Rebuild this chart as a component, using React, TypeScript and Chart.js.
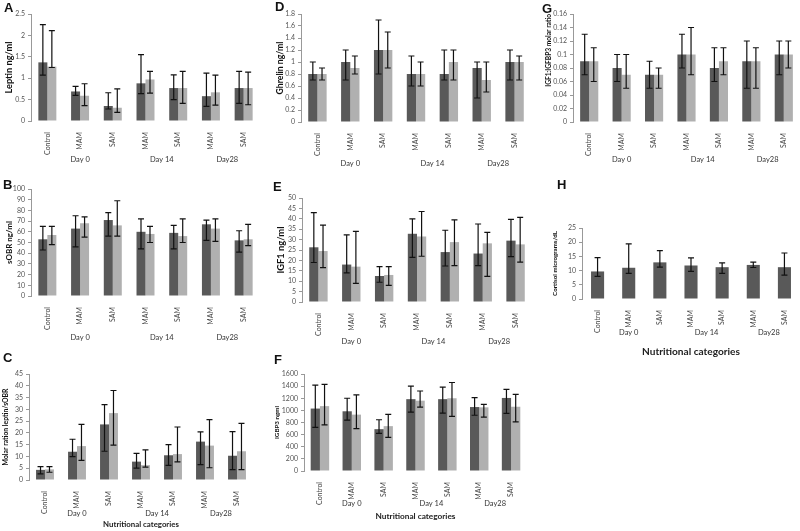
import React, { useEffect, useRef } from "react";
import { Chart, registerables } from "chart.js";

Chart.register(...registerables);

// ---------- shared categories ----------
const categories = ["Control", "MAM", "SAM", "MAM", "SAM", "MAM", "SAM"];
const dayGroups: [number, number, string][] = [
  [0, 2, "Day 0"],
  [3, 4, "Day 14"],
  [5, 6, "Day28"],
];

// ---------- A: Leptin ----------
const leptinDark = [1.37, 0.69, 0.35, 0.88, 0.77, 0.58, 0.77];
const leptinDarkErr = [[1.07, 2.25], [0.6, 0.81], [0.28, 0.66], [0.64, 1.55], [0.5, 1.08], [0.34, 1.12], [0.41, 1.16]];
const leptinLight = [1.27, 0.59, 0.31, 0.97, 0.77, 0.67, 0.77];
const leptinLightErr = [[1.25, 2.11], [0.36, 0.87], [0.2, 0.75], [0.65, 1.16], [0.41, 1.16], [0.37, 1.07], [0.38, 1.14]];

// ---------- B: sOBR ----------
const sobrDark = [53, 63, 71, 60, 59, 67, 52];
const sobrDarkErr = [[43, 65], [46, 75], [56, 78], [44, 72], [44, 66], [52, 71], [41, 61]];
const sobrLight = [57, 68, 66, 58, 56, 63, 53];
const sobrLightErr = [[48, 65], [55, 74], [56, 89], [50, 65], [50, 72], [51, 72], [47, 67]];

// ---------- C: Molar ratio leptin/sOBR ----------
const molarDark = [4.3, 12, 23.6, 7.8, 10.5, 16.3, 10.3];
const molarDarkErr = [[2.6, 5.7], [9.9, 17.3], [12.2, 32], [5, 11.3], [6.2, 15], [6.5, 20.4], [4.4, 20.5]];
const molarLight = [4.5, 14.4, 28.4, 6.3, 11, 14.6, 12.2];
const molarLightErr = [[3.3, 5.7], [8.3, 23.6], [14.8, 38], [5.5, 12.8], [7.7, 22.5], [5.2, 25.6], [4.4, 24]];

// ---------- D: Ghrelin ----------
const ghrelinDark = [0.8, 1.0, 1.2, 0.8, 0.8, 0.9, 1.0];
const ghrelinDarkErr = [[0.7, 1.0], [0.7, 1.2], [0.8, 1.7], [0.6, 1.1], [0.7, 1.2], [0.4, 1.0], [0.7, 1.2]];
const ghrelinLight = [0.8, 0.9, 1.2, 0.8, 1.0, 0.7, 1.0];
const ghrelinLightErr = [[0.7, 0.9], [0.8, 1.1], [0.9, 1.5], [0.6, 1.0], [0.7, 1.2], [0.5, 1.0], [0.7, 1.1]];

// ---------- E: IGF1 ----------
const igf1Dark = [26.3, 18, 12.5, 32.8, 24, 23.3, 29.5];
const igf1DarkErr = [[19, 43], [14, 32.3], [9.5, 17], [21.5, 40], [17.3, 34.5], [17.5, 37.5], [21.8, 39.7]];
const igf1Light = [24.5, 17, 13, 31.5, 28.8, 28.2, 27.7];
const igf1LightErr = [[16.5, 37], [9, 34], [8, 17], [22, 43.5], [17.5, 39.5], [12.3, 33.5], [19.2, 40.7]];

// ---------- F: IGFBP3 ----------
const igfbp3Dark = [1030, 985, 690, 1185, 1185, 1055, 1205];
const igfbp3DarkErr = [[720, 1415], [840, 1200], [620, 845], [970, 1400], [955, 1385], [920, 1210], [950, 1345]];
const igfbp3Light = [1070, 930, 740, 1160, 1200, 1050, 1060];
const igfbp3LightErr = [[760, 1430], [700, 1255], [555, 935], [1055, 1320], [900, 1460], [890, 1100], [810, 1265]];

// ---------- G: IGF1:IGFBP3 molar ratio ----------
const ratioDark = [0.09, 0.08, 0.07, 0.1, 0.08, 0.09, 0.1];
const ratioDarkErr = [[0.07, 0.13], [0.06, 0.1], [0.05, 0.09], [0.08, 0.13], [0.06, 0.11], [0.05, 0.12], [0.07, 0.12]];
const ratioLight = [0.09, 0.07, 0.07, 0.1, 0.09, 0.09, 0.1];
const ratioLightErr = [[0.06, 0.11], [0.05, 0.1], [0.05, 0.08], [0.07, 0.14], [0.07, 0.11], [0.05, 0.11], [0.08, 0.12]];

// ---------- H: Cortisol ----------
const cortisol = [9.7, 11, 12.9, 11.8, 11.2, 12, 11.2];
const cortisolErr = [[8, 14.6], [9, 19.4], [11.2, 17], [9.7, 14.5], [9, 12.7], [11.1, 13], [8.4, 16.2]];

// ---------- styling ----------
const W = 800;
const H = 531;
const DARK = "#595959";
const LIGHT = "#b0b0b0";
const FONT = "Lato";

type PanelCfg = {
  letter: string;
  letterPos: [number, number];
  area: [number, number, number, number]; // left, top, right, bottom (page px)
  yMax: number;
  yStep: number;
  yTitle: string;
  yTitleX: number;
  yTitleLen: number; // rendered length of the y title in px
  yTitleAlign?: string;
  series: { data: number[]; err: number[][]; color: string }[];
  dayDy: number;
  xTitle?: string;
  xTitleDy?: number;
  xTitleLen?: number;
  barPct: number;
  catPct: number;
};

const pair = (d: number[], de: number[][], l: number[], le: number[][]) => [
  { data: d, err: de, color: DARK },
  { data: l, err: le, color: LIGHT },
];

const panels: PanelCfg[] = [
  { letter: "A", letterPos: [4, 1], area: [31, 14, 260, 121], yMax: 2.5, yStep: 0.5, yTitle: "Leptin ng/ml", yTitleX: 9, yTitleLen: 52,
    series: pair(leptinDark, leptinDarkErr, leptinLight, leptinLightErr), dayDy: 39, barPct: 1, catPct: 0.55 },
  { letter: "B", letterPos: [3, 178], area: [31, 189, 260, 296], yMax: 100, yStep: 10, yTitle: "sOBR ng/ml", yTitleX: 9, yTitleLen: 43,
    series: pair(sobrDark, sobrDarkErr, sobrLight, sobrLightErr), dayDy: 42, barPct: 1, catPct: 0.55 },
  { letter: "C", letterPos: [3, 351], area: [29, 374, 253, 480], yMax: 45, yStep: 5, yTitle: "Molar ration leptin/sOBR", yTitleX: 6, yTitleLen: 77,
    series: pair(molarDark, molarDarkErr, molarLight, molarLightErr), dayDy: 34, xTitle: "Nutritional categories", xTitleDy: 44, xTitleLen: 76, barPct: 1, catPct: 0.56 },
  { letter: "D", letterPos: [275, 0], area: [301, 14, 531, 122], yMax: 1.8, yStep: 0.2, yTitle: "Ghrelin ng/ml", yTitleX: 280, yTitleLen: 53,
    series: pair(ghrelinDark, ghrelinDarkErr, ghrelinLight, ghrelinLightErr), dayDy: 42, barPct: 1, catPct: 0.56 },
  { letter: "E", letterPos: [273, 180], area: [302, 198, 532, 302], yMax: 50, yStep: 5, yTitle: "IGF1 ng/ml", yTitleX: 281, yTitleLen: 47,
    series: pair(igf1Dark, igf1DarkErr, igf1Light, igf1LightErr), dayDy: 40, barPct: 1, catPct: 0.56 },
  { letter: "F", letterPos: [274, 353], area: [304, 374, 527, 471], yMax: 1600, yStep: 200, yTitle: "IGBP3 ngml", yTitleX: 277, yTitleLen: 33,
    series: pair(igfbp3Dark, igfbp3DarkErr, igfbp3Light, igfbp3LightErr), dayDy: 33, xTitle: "Nutritional categories", xTitleDy: 45, xTitleLen: 80, barPct: 1, catPct: 0.58 },
  { letter: "G", letterPos: [542, 2], area: [573, 14, 800, 122], yMax: 0.16, yStep: 0.02, yTitle: "IGF1:IGFBP3 molar ratio", yTitleX: 549, yTitleLen: 73, yTitleAlign: "end",
    series: pair(ratioDark, ratioDarkErr, ratioLight, ratioLightErr), dayDy: 38, barPct: 1, catPct: 0.56 },
  { letter: "H", letterPos: [557, 178], area: [582, 228, 800, 299], yMax: 25, yStep: 5, yTitle: "Cortisol micrograms/dL", yTitleX: 555, yTitleLen: 65,
    series: [{ data: cortisol, err: cortisolErr, color: DARK }], dayDy: 34, xTitle: "Nutritional categories", xTitleDy: 53, xTitleLen: 98, barPct: 0.42, catPct: 1 },
];

// size a bold title so that its rendered length matches the reference
function fitTitleSize(text: string, len: number): number {
  const c = document.createElement("canvas").getContext("2d");
  if (!c) return 8;
  c.font = `bold 20px ${FONT}`;
  const w = c.measureText(text).width;
  return Math.min(11, Math.max(5, (20 * len) / w));
}

// ---------- plugins ----------
const errorBarPlugin = {
  id: "errorBars",
  afterDatasetsDraw(chart: any) {
    const ctx = chart.ctx;
    const y = chart.scales.y;
    chart.data.datasets.forEach((ds: any, i: number) => {
      const errs = ds.errorBars as number[][] | undefined;
      if (!errs) return;
      const meta = chart.getDatasetMeta(i);
      meta.data.forEach((bar: any, j: number) => {
        const [lo, hi] = errs[j];
        const x = bar.x;
        const yl = y.getPixelForValue(lo);
        const yh = y.getPixelForValue(hi);
        ctx.save();
        ctx.strokeStyle = "#111";
        ctx.lineWidth = 1.2;
        ctx.beginPath();
        ctx.moveTo(x, yl);
        ctx.lineTo(x, yh);
        ctx.moveTo(x - 3, yl);
        ctx.lineTo(x + 3, yl);
        ctx.moveTo(x - 3, yh);
        ctx.lineTo(x + 3, yh);
        ctx.stroke();
        ctx.restore();
      });
    });
  },
};

const groupLabelPlugin = {
  id: "groupLabels",
  afterDraw(chart: any, _args: any, opts: any) {
    const ctx = chart.ctx;
    const xs = chart.scales.x;
    const area = chart.chartArea;
    ctx.save();
    ctx.textAlign = "center";
    ctx.textBaseline = "middle";
    ctx.fillStyle = "#333";
    ctx.font = `7.5px ${FONT}`;
    for (const [a, b, label] of opts.groups as [number, number, string][]) {
      const cx = (xs.getPixelForValue(a) + xs.getPixelForValue(b)) / 2;
      ctx.fillText(label, cx, area.bottom + opts.dy);
    }
    if (opts.title) {
      ctx.font = `bold 10px ${FONT}`;
      const w = ctx.measureText(opts.title).width;
      const size = (10 * (opts.titleLen || 98)) / w;
      ctx.font = `bold ${size}px ${FONT}`;
      ctx.fillStyle = "#222";
      ctx.fillText(opts.title, (area.left + area.right) / 2, area.bottom + opts.titleDy);
    }
    ctx.restore();
  },
};

const fmt = (v: any) => String(Number(Number(v).toFixed(4)));

function Panel({ cfg }: { cfg: PanelCfg }) {
  const ref = useRef<HTMLCanvasElement | null>(null);
  useEffect(() => {
    if (!ref.current) return;
    const [L, T, R, B] = cfg.area;
    const titleSize = fitTitleSize(cfg.yTitle, cfg.yTitleLen);
    const lh = titleSize * 1.2;
    const padLeft = cfg.yTitleX - lh / 2;
    const yWidth = L - padLeft;
    const xHeight = H - B;
    const chart = new Chart(ref.current, {
      type: "bar",
      data: {
        labels: categories,
        datasets: cfg.series.map((s) => ({
          data: s.data,
          errorBars: s.err,
          backgroundColor: s.color,
          borderWidth: 0,
          barPercentage: cfg.barPct,
          categoryPercentage: cfg.catPct,
        })) as any,
      },
      options: {
        responsive: false,
        animation: false,
        events: [],
        layout: { padding: { left: padLeft, top: T, right: W - R, bottom: 0 } },
        plugins: {
          legend: { display: false },
          tooltip: { enabled: false },
          groupLabels: { groups: dayGroups, dy: cfg.dayDy, title: cfg.xTitle, titleDy: cfg.xTitleDy, titleLen: cfg.xTitleLen },
        } as any,
        scales: {
          x: {
            type: "category",
            offset: true,
            grid: { display: false },
            border: { display: false },
            ticks: {
              autoSkip: false,
              minRotation: 90,
              maxRotation: 90,
              padding: 3,
              color: "#444",
              font: { family: FONT, size: 7 },
            },
            afterFit(s: any) {
              s.height = xHeight;
            },
          },
          y: {
            min: 0,
            max: cfg.yMax,
            ticks: {
              stepSize: cfg.yStep,
              autoSkip: false,
              padding: 3,
              color: "#555",
              font: { family: FONT, size: 7 },
              callback: fmt,
            },
            grid: { display: true, drawOnChartArea: false, drawTicks: true, tickLength: 3, color: "#999" },
            border: { display: true, color: "#999" },
            title: {
              display: true,
              text: cfg.yTitle,
              color: "#111",
              padding: 0,
              align: cfg.yTitleAlign || "center",
              font: { family: FONT, size: titleSize, weight: "bold" },
            },
            afterFit(s: any) {
              s.width = yWidth;
            },
          },
        },
      } as any,
      plugins: [errorBarPlugin, groupLabelPlugin],
    });
    return () => chart.destroy();
  }, [cfg]);
  return (
    <canvas
      ref={ref}
      width={W}
      height={H}
      style={{ position: "absolute", left: 0, top: 0, width: W, height: H }}
    />
  );
}

export default function App() {
  return (
    <div
      style={{
        position: "absolute",
        left: 0,
        top: 0,
        width: W,
        height: H,
        background: "#fff",
        overflow: "hidden",
      }}
    >
      {panels.map((p) => (
        <Panel key={p.letter} cfg={p} />
      ))}
      {panels.map((p) => (
        <div
          key={"l" + p.letter}
          style={{
            position: "absolute",
            left: p.letterPos[0],
            top: p.letterPos[1],
            font: "bold 13px 'Liberation Sans', Arial, sans-serif",
            lineHeight: "13px",
            color: "#111",
          }}
        >
          {p.letter}
        </div>
      ))}
    </div>
  );
}
